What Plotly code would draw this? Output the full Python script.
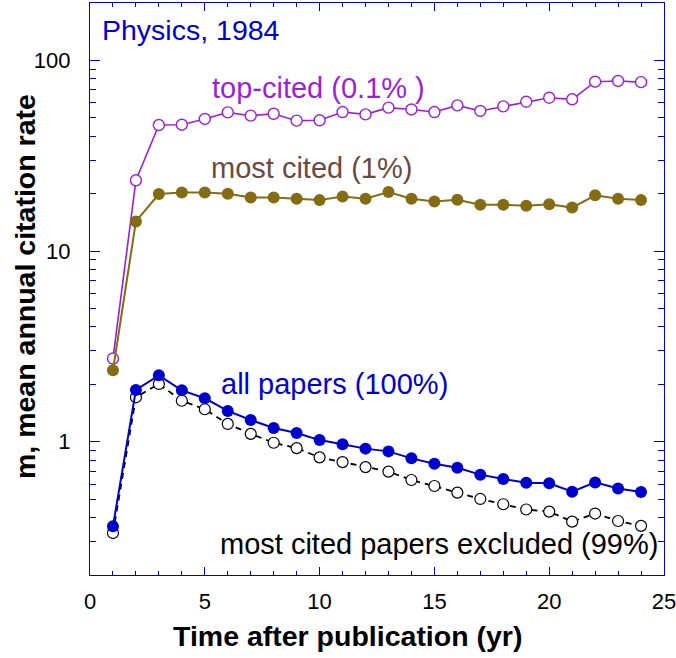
import plotly.graph_objects as go

years = list(range(1, 25))
top_cited = [2.73, 23.5, 45.8, 46.0, 49.3, 53.4, 51.3, 52.5, 48.3, 48.5, 53.6, 52.1,
             56.5, 55.3, 53.6, 58.1, 54.3, 57.4, 60.7, 63.7, 62.5, 77.3, 78.0, 76.9]
most_cited = [2.37, 14.3, 19.9, 20.3, 20.3, 20.0, 19.1, 19.1, 18.8, 18.5, 19.3, 18.8,
              20.4, 18.8, 18.2, 18.6, 17.5, 17.5, 17.3, 17.6, 16.9, 19.6, 18.8, 18.5]
all_papers = [0.360, 1.87, 2.23, 1.86, 1.69, 1.45, 1.30, 1.18, 1.11, 1.02, 0.97, 0.92,
              0.89, 0.818, 0.767, 0.731, 0.672, 0.637, 0.610, 0.605, 0.547, 0.612, 0.569, 0.545]
excluded = [0.332, 1.71, 2.01, 1.64, 1.48, 1.24, 1.10, 0.988, 0.926, 0.828, 0.782, 0.736,
            0.697, 0.630, 0.586, 0.541, 0.501, 0.470, 0.441, 0.430, 0.381, 0.420, 0.384, 0.362]

x_ticks = [0, 5, 10, 15, 20, 25]
y_ticks = [1, 10, 100]
y_tick_text = ["1", "10", "100"]

FONT = "Liberation Sans, Arial, sans-serif"
BLUE = "#0000cc"
PURPLE = "#9b1fd8"
OLIVE = "#836c14"
BROWN = "#6a4a3e"

fig = go.Figure()
fig.add_trace(go.Scatter(x=years, y=top_cited, mode="lines+markers",
                         line=dict(color=PURPLE, width=1.6),
                         marker=dict(symbol="circle", size=11, color="white",
                                     line=dict(color=PURPLE, width=1.4))))
fig.add_trace(go.Scatter(x=years, y=most_cited, mode="lines+markers",
                         line=dict(color=OLIVE, width=2),
                         marker=dict(symbol="circle", size=12, color=OLIVE)))
fig.add_trace(go.Scatter(x=years, y=excluded, mode="lines+markers",
                         line=dict(color="black", width=1.8, dash="6px,5px"),
                         marker=dict(symbol="circle", size=11, color="white",
                                     line=dict(color="black", width=1.2))))
fig.add_trace(go.Scatter(x=years, y=all_papers, mode="lines+markers",
                         line=dict(color=BLUE, width=2),
                         marker=dict(symbol="circle", size=12, color=BLUE)))

minor_x = [i for i in range(0, 26) if i % 5 != 0]
minor_y = []
for d in [0.1, 1, 10, 100]:
    for k in range(2, 10):
        v = d * k
        if 0.2 <= v <= 200:
            minor_y.append(v)

fig.update_xaxes(range=[0, 25], tickvals=x_ticks, ticks="inside", ticklen=8,
                 tickcolor=BLUE, tickwidth=1.3, showline=True, linecolor=BLUE,
                 linewidth=1.3, mirror="ticks", showgrid=False, zeroline=False,
                 automargin=False,
                 tickfont=dict(family=FONT, size=22, color="black"),
                 ticklabelstandoff=6, ticklabeloverflow="allow",
                 minor=dict(tickvals=minor_x, ticks="inside", ticklen=4,
                            tickcolor=BLUE, tickwidth=1.3, showgrid=False))
fig.update_yaxes(type="log", range=[0.30103 - 1, 2.30103], tickvals=y_ticks,
                 ticktext=y_tick_text, ticks="inside", ticklen=10,
                 tickcolor=BLUE, tickwidth=1.3, showline=True, linecolor=BLUE,
                 linewidth=1.3, mirror="ticks", showgrid=False, zeroline=False,
                 automargin=False,
                 tickfont=dict(family=FONT, size=22, color="black"),
                 ticklabelstandoff=14,
                 minor=dict(tickvals=minor_y, ticks="inside", ticklen=6,
                            tickcolor=BLUE, tickwidth=1.3, showgrid=False))

# paper coords: plot area x 90..664, y 3..575
def px(xp):
    return (xp - 90) / 574

def py(yp):
    return (575 - yp) / 572

def label(text, x, y, color, size=29):
    fig.add_annotation(text=text, x=px(x), y=py(y), xref="paper", yref="paper",
                       xanchor="left", yanchor="middle", showarrow=False,
                       font=dict(family=FONT, size=size, color=color))

label("Physics, 1984", 100, 30, BLUE, 28.5)
label("top-cited (0.1% )", 210, 88, PURPLE)
label("most cited (1%)", 209, 168, BROWN)
label("all papers (100%)", 219, 384, BLUE)
label("most cited papers excluded (99%)", 218, 544, "black")

fig.add_annotation(text="<b>Time after publication (yr)</b>", x=px(347), y=py(636),
                   xref="paper", yref="paper", xanchor="center", yanchor="middle",
                   showarrow=False, font=dict(family=FONT, size=28.5, color="black"))
fig.add_annotation(text="<b>m, mean annual citation rate</b>", x=px(25), y=py(287),
                   xref="paper", yref="paper", xanchor="center", yanchor="middle",
                   textangle=-90, showarrow=False,
                   font=dict(family=FONT, size=28.5, color="black"))

fig.update_layout(width=676, height=658, autosize=False, showlegend=False,
                  plot_bgcolor="white", paper_bgcolor="white",
                  margin=dict(l=90, r=12, t=3, b=83, pad=0),
                  font=dict(family=FONT))

fig.write_html("out.html", config={"displayModeBar": False, "responsive": False},
               post_script="document.body.style.margin='0';document.body.style.overflow='hidden';")
